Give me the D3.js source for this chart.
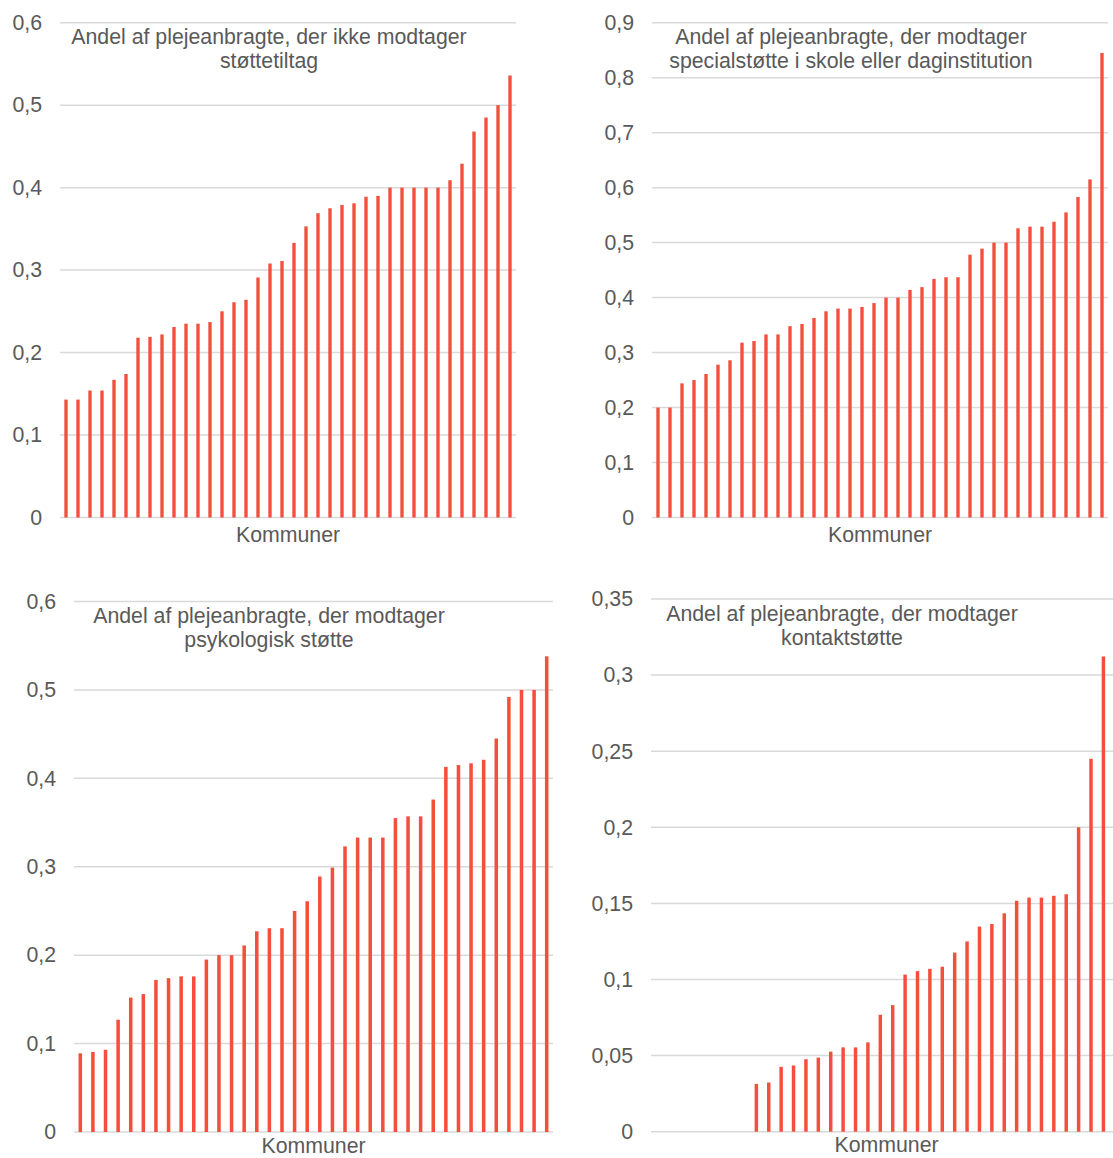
<!DOCTYPE html>
<html>
<head>
<meta charset="utf-8">
<script src="https://cdn.jsdelivr.net/npm/d3@7"></script>
<style>
  html, body { margin: 0; padding: 0; background: #ffffff; }
  svg { display: block; }
  text { font-family: "Liberation Sans", Arial, sans-serif; fill: #595959; }
</style>
</head>
<body>
<svg id="chart" width="1113" height="1158"></svg>
<script>
// ---- Data ----
const kommuner = d3.range(1, 39).map(i => "Kommune " + i);

const ikkeStoette = [0.143, 0.143, 0.154, 0.154, 0.167, 0.174, 0.218, 0.219, 0.222, 0.231,
  0.235, 0.235, 0.237, 0.250, 0.261, 0.264, 0.291, 0.308, 0.311, 0.333,
  0.353, 0.369, 0.375, 0.379, 0.381, 0.389, 0.390, 0.400, 0.400, 0.400,
  0.400, 0.400, 0.409, 0.429, 0.468, 0.485, 0.500, 0.536];

const specialStoette = [0.200, 0.200, 0.244, 0.250, 0.261, 0.278, 0.286, 0.318, 0.321, 0.333,
  0.333, 0.348, 0.352, 0.363, 0.375, 0.380, 0.380, 0.383, 0.390, 0.400,
  0.400, 0.414, 0.419, 0.434, 0.437, 0.437, 0.478, 0.489, 0.500, 0.500,
  0.526, 0.529, 0.529, 0.538, 0.555, 0.583, 0.615, 0.845];

const psykologiskStoette = [0.089, 0.0905, 0.093, 0.127, 0.152, 0.156, 0.172, 0.174, 0.176, 0.176,
  0.195, 0.200, 0.200, 0.211, 0.227, 0.2305, 0.2305, 0.250, 0.261, 0.289,
  0.299, 0.323, 0.333, 0.333, 0.333, 0.355, 0.357, 0.357, 0.376, 0.413,
  0.415, 0.417, 0.421, 0.445, 0.492, 0.500, 0.500, 0.538];

const kontaktStoette = [0, 0, 0, 0, 0, 0, 0, 0, 0.0314, 0.0323,
  0.0426, 0.0435, 0.0476, 0.0487, 0.0526, 0.0554, 0.0554, 0.0587, 0.0768, 0.0832,
  0.1032, 0.1055, 0.107, 0.1084, 0.1177, 0.125, 0.1348, 0.1365, 0.1435, 0.1517,
  0.1538, 0.1538, 0.155, 0.156, 0.200, 0.245, 0.3122];

const titles = [
  ["Andel af plejeanbragte, der ikke modtager", "støttetiltag"],
  ["Andel af plejeanbragte, der modtager", "specialstøtte i skole eller daginstitution"],
  ["Andel af plejeanbragte, der modtager", "psykologisk støtte"],
  ["Andel af plejeanbragte, der modtager", "kontaktstøtte"]
];
const yMaxes = [0.6, 0.9, 0.6, 0.35];
const yStepSizes = [0.1, 0.1, 0.1, 0.05];
const xAxisTitle = "Kommuner";

// ---- Layout ----
const layouts = [
  { x0: 60,  x1: 516,  yTop: 22.7,  yBot: 517.5,  labelRight: 42,  titleX: 269, titleY: 43.5,  xTitleY: 542 },
  { x0: 652, x1: 1108, yTop: 22.7,  yBot: 517.5,  labelRight: 634, titleX: 851, titleY: 43.5,  xTitleY: 542 },
  { x0: 74,  x1: 553,  yTop: 601.5, yBot: 1132,   labelRight: 56,  titleX: 269, titleY: 623,   xTitleY: 1153 },
  { x0: 651, x1: 1122, yTop: 599,   yBot: 1131.7, labelRight: 633, titleX: 842, titleY: 621,   xTitleY: 1152 }
];
const series = [ikkeStoette, specialStoette, psykologiskStoette, kontaktStoette];

const locale = d3.formatLocale({ decimal: ",", thousands: ".", grouping: [3], currency: ["", " kr."] });
const fmt = locale.format("~g");

const svg = d3.select("#chart");
const BAR = "#f44f3c";
const GRID = "#d9d9d9";
const FS = 21.3;

series.forEach((vals, i) => {
  const L = layouts[i];
  const g = svg.append("g");
  const x = d3.scaleBand().domain(kommuner).range([L.x0, L.x1]).paddingInner(0.72).paddingOuter(0.36);
  const y = d3.scaleLinear().domain([0, yMaxes[i]]).range([L.yBot, L.yTop]);
  const ticks = d3.range(0, Math.round(yMaxes[i] / yStepSizes[i]) + 1).map(k => +(k * yStepSizes[i]).toFixed(4));

  // gridlines
  g.append("g").selectAll("line").data(ticks).join("line")
    .attr("x1", L.x0).attr("x2", L.x1)
    .attr("y1", d => y(d)).attr("y2", d => y(d))
    .attr("stroke", GRID).attr("stroke-width", 1.5);

  // y axis labels via d3 axis
  const axis = d3.axisLeft(y).tickValues(ticks).tickFormat(fmt).tickSize(0).tickPadding(0);
  const ag = g.append("g").attr("transform", `translate(${L.labelRight},0)`).call(axis);
  ag.select(".domain").remove();
  ag.selectAll("text").attr("font-size", FS).attr("fill", "#595959")
    .attr("font-family", "'Liberation Sans', Arial, sans-serif");

  // bars
  const data = vals.map((v, k) => ({ k: kommuner[k], v }));
  g.append("g").selectAll("rect").data(data).join("rect")
    .attr("x", d => x(d.k))
    .attr("width", x.bandwidth())
    .attr("y", d => y(d.v))
    .attr("height", d => y(0) - y(d.v))
    .attr("fill", BAR);

  // title
  const t = g.append("text").attr("text-anchor", "middle").attr("font-size", FS);
  titles[i].forEach((line, li) => {
    t.append("tspan").attr("x", L.titleX).attr("y", L.titleY + li * 24).text(line);
  });

  // x axis title
  g.append("text").attr("text-anchor", "middle").attr("font-size", FS)
    .attr("x", (L.x0 + L.x1) / 2).attr("y", L.xTitleY).text(xAxisTitle);
});
</script>
</body>
</html>
